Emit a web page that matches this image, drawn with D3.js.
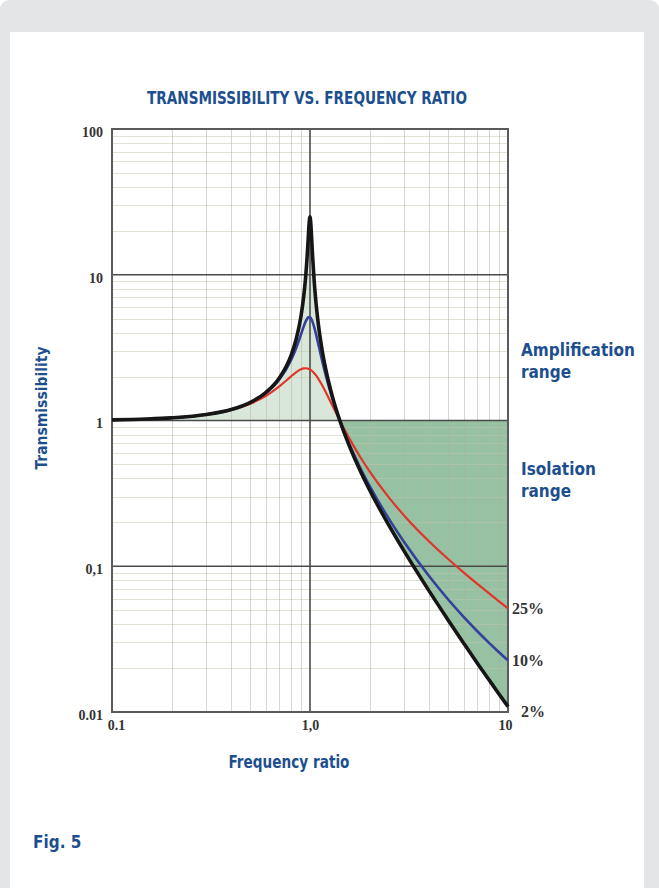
<!DOCTYPE html>
<html>
<head>
<meta charset="utf-8">
<script src="https://cdn.jsdelivr.net/npm/d3@7"></script>
<style>
  html, body { margin: 0; padding: 0; background: #ffffff; }
  svg { display: block; }
</style>
</head>
<body>
<svg id="chart" width="659" height="888"></svg>
<script>
// ---- data ----
const frequencyRatios = [0.1, 0.15, 0.2, 0.3, 0.4, 0.5, 0.6, 0.7, 0.8, 0.85, 0.9, 0.93, 0.95, 0.97, 0.98, 0.99, 1.0, 1.01, 1.02, 1.03, 1.05, 1.07, 1.1, 1.15, 1.2, 1.3, 1.414, 1.6, 1.8, 2, 2.5, 3, 4, 5, 6, 7, 8, 9, 10];
const transmissibility2 = [1.010, 1.023, 1.042, 1.099, 1.190, 1.333, 1.562, 1.959, 2.768, 3.579, 5.175, 7.141, 9.563, 14.16, 17.96, 22.58, 25.02, 22.18, 17.43, 13.61, 9.036, 6.625, 4.665, 3.073, 2.262, 1.447, 1.000, 0.6418, 0.4474, 0.3343, 0.1914, 0.1259, 0.0675, 0.0425, 0.0294, 0.0216, 0.0167, 0.0133, 0.0109];
const transmissibility10 = [1.010, 1.023, 1.042, 1.099, 1.189, 1.328, 1.547, 1.909, 2.571, 3.117, 3.882, 4.425, 4.766, 5.023, 5.096, 5.123, 5.099, 5.026, 4.908, 4.753, 4.373, 3.957, 3.367, 2.590, 2.052, 1.401, 1.000, 0.6593, 0.4685, 0.3559, 0.2120, 0.1454, 0.0853, 0.0589, 0.0446, 0.0358, 0.0299, 0.0257, 0.0226];
const transmissibility25 = [1.010, 1.023, 1.041, 1.096, 1.181, 1.304, 1.477, 1.713, 2.001, 2.141, 2.245, 2.278, 2.283, 2.275, 2.265, 2.252, 2.236, 2.217, 2.194, 2.169, 2.111, 2.046, 1.939, 1.750, 1.567, 1.258, 1.000, 0.7305, 0.5573, 0.4472, 0.2966, 0.2215, 0.1478, 0.1116, 0.0900, 0.0756, 0.0653, 0.0575, 0.0514];
const seriesNames = ["25%", "10%", "2%"];
const isolationStart = 1.414;
const yTickValues = [0.01, 0.1, 1, 10, 100];
const yTickLabels = ["0.01", "0,1", "1", "10", "100"];
const xTickValues = [0.1, 1, 10];
const xTickLabels = ["0.1", "1,0", "10"];
const titleText = "TRANSMISSIBILITY VS. FREQUENCY RATIO";
const xTitle = "Frequency ratio";
const yTitle = "Transmissibility";
const rangeLabels = [["Amplification", "range"], ["Isolation", "range"]];
const figLabel = "Fig. 5";

// ---- layout ----
const W = 659, H = 888;
const plot = { left: 112, right: 508, top: 129, bottom: 712 };
const blue = "#1d4f8f";
const condensed = "'Liberation Sans Narrow','DejaVu Sans Condensed','Open Sans',sans-serif";
const serif = "'Liberation Serif','DejaVu Serif',serif";

const svg = d3.select("#chart");

// page background
svg.append("rect").attr("x", 0).attr("y", 0).attr("width", W).attr("height", H + 20)
  .attr("rx", 9).attr("fill", "#e4e5e7");
svg.append("rect").attr("x", 10).attr("y", 32).attr("width", 634).attr("height", H)
  .attr("fill", "#ffffff");

const x = d3.scaleLog().domain([0.1, 10]).range([plot.left, plot.right]);
const y = d3.scaleLog().domain([0.01, 100]).range([plot.bottom, plot.top]);

const pts2 = frequencyRatios.map((r, i) => ({ r, t: transmissibility2[i] }));
const pts10 = frequencyRatios.map((r, i) => ({ r, t: transmissibility10[i] }));
const pts25 = frequencyRatios.map((r, i) => ({ r, t: transmissibility25[i] }));

// ---- fills ----
const amp = pts2.filter(d => d.r <= isolationStart);
const iso = pts2.filter(d => d.r >= isolationStart);
svg.append("path").datum(amp)
  .attr("d", d3.area().x(d => x(d.r)).y0(y(1)).y1(d => y(d.t)).curve(d3.curveMonotoneX))
  .attr("fill", "#d9e7db");
svg.append("path").datum(iso)
  .attr("d", d3.area().x(d => x(d.r)).y0(d => y(d.t)).y1(y(1)).curve(d3.curveMonotoneX))
  .attr("fill", "#96c1a3");

// ---- grid ----
const grid = svg.append("g");
const minorX = [];
[0.1, 1].forEach(dec => { for (let k = 2; k <= 9; k++) minorX.push(k * dec); });
const minorY = [];
[0.01, 0.1, 1, 10].forEach(dec => { for (let k = 2; k <= 9; k++) minorY.push(k * dec); });

grid.selectAll(".hy").data(minorY).join("line")
  .attr("x1", plot.left).attr("x2", plot.right)
  .attr("y1", d => Math.round(y(d)) + 0.5).attr("y2", d => Math.round(y(d)) + 0.5)
  .attr("stroke", "#c2c8a8").attr("stroke-opacity", 0.5).attr("stroke-width", 1);
grid.selectAll(".vx").data(minorX).join("line")
  .attr("y1", plot.top).attr("y2", plot.bottom)
  .attr("x1", d => Math.round(x(d)) + 0.5).attr("x2", d => Math.round(x(d)) + 0.5)
  .attr("stroke", "#aeb2a0").attr("stroke-opacity", 0.5).attr("stroke-width", 1);
grid.selectAll(".my").data(yTickValues.slice(1, -1)).join("line")
  .attr("x1", plot.left).attr("x2", plot.right)
  .attr("y1", d => y(d)).attr("y2", d => y(d))
  .attr("stroke", "#4a4a4a").attr("stroke-width", 1.6);
grid.selectAll(".mx").data(xTickValues.slice(1, -1)).join("line")
  .attr("y1", plot.top).attr("y2", plot.bottom)
  .attr("x1", d => x(d)).attr("x2", d => x(d))
  .attr("stroke", "#4a4a4a").attr("stroke-width", 1.6);
svg.append("rect")
  .attr("x", plot.left).attr("y", plot.top)
  .attr("width", plot.right - plot.left).attr("height", plot.bottom - plot.top)
  .attr("fill", "none").attr("stroke", "#5a5a5a").attr("stroke-width", 2);

// ---- curves ----
const line = d3.line().x(d => x(d.r)).y(d => y(d.t)).curve(d3.curveMonotoneX);
svg.append("path").datum(pts25).attr("d", line)
  .attr("fill", "none").attr("stroke", "#e2342a").attr("stroke-width", 2.2);
svg.append("path").datum(pts10).attr("d", line)
  .attr("fill", "none").attr("stroke", "#34409a").attr("stroke-width", 2.6);
svg.append("path").datum(pts2).attr("d", line)
  .attr("fill", "none").attr("stroke", "#161616").attr("stroke-width", 3.6)
  .attr("stroke-linejoin", "round");

// ---- axes ----
const yAxis = d3.axisLeft(y).tickValues(yTickValues)
  .tickFormat((d, i) => yTickLabels[i]).tickSize(0).tickPadding(9);
const gy = svg.append("g").attr("transform", `translate(${plot.left},3)`).call(yAxis);
gy.select(".domain").remove();
gy.selectAll("text").attr("font-family", serif).attr("font-weight", "bold")
  .attr("font-size", 14).attr("fill", "#333");

const xAxis = d3.axisBottom(x).tickValues(xTickValues)
  .tickFormat((d, i) => xTickLabels[i]).tickSize(0).tickPadding(8);
const gx = svg.append("g").attr("transform", `translate(0,${plot.bottom})`).call(xAxis);
gx.select(".domain").remove();
const xOff = [4, 0, -3];
gx.selectAll("text").attr("font-family", serif).attr("font-weight", "bold")
  .attr("font-size", 14).attr("fill", "#333")
  .attr("dx", (d, i) => xOff[i]);

// ---- series labels ----
const ends = [pts25, pts10, pts2].map(p => p[p.length - 1]);
const labDy = [6, 6, 10];
const labDx = [4, 4, 13];
svg.selectAll(".pct").data(ends).join("text")
  .attr("x", (d, i) => x(d.r) + labDx[i])
  .attr("y", (d, i) => y(d.t) + labDy[i])
  .attr("font-family", serif).attr("font-weight", "bold").attr("font-size", 16)
  .attr("fill", "#333")
  .text((d, i) => seriesNames[i]);

// ---- titles ----
svg.append("text").attr("x", 307).attr("y", 104).attr("text-anchor", "middle")
  .attr("font-family", condensed).attr("font-weight", "bold").attr("font-size", 17)
  .attr("fill", blue).attr("textLength", 320).attr("lengthAdjust", "spacingAndGlyphs")
  .text(titleText);
svg.append("text").attr("x", 289).attr("y", 768).attr("text-anchor", "middle")
  .attr("font-family", condensed).attr("font-weight", "bold").attr("font-size", 17)
  .attr("fill", blue).attr("textLength", 121).attr("lengthAdjust", "spacingAndGlyphs")
  .text(xTitle);
svg.append("text").attr("transform", "translate(47,408) rotate(-90)")
  .attr("text-anchor", "middle")
  .attr("font-family", condensed).attr("font-weight", "bold").attr("font-size", 16)
  .attr("fill", blue).attr("textLength", 123).attr("lengthAdjust", "spacingAndGlyphs")
  .text(yTitle);

const rangeY = [356, 475];
rangeLabels.forEach((lines, j) => {
  lines.forEach((t, k) => {
    svg.append("text").attr("x", 521).attr("y", rangeY[j] + k * 22)
      .attr("font-family", condensed).attr("font-weight", "bold").attr("font-size", 17)
      .attr("fill", blue).text(t);
  });
});

svg.append("text").attr("x", 33).attr("y", 848)
  .attr("font-family", condensed).attr("font-weight", "bold").attr("font-size", 17)
  .attr("fill", blue).text(figLabel);
</script>
</body>
</html>
